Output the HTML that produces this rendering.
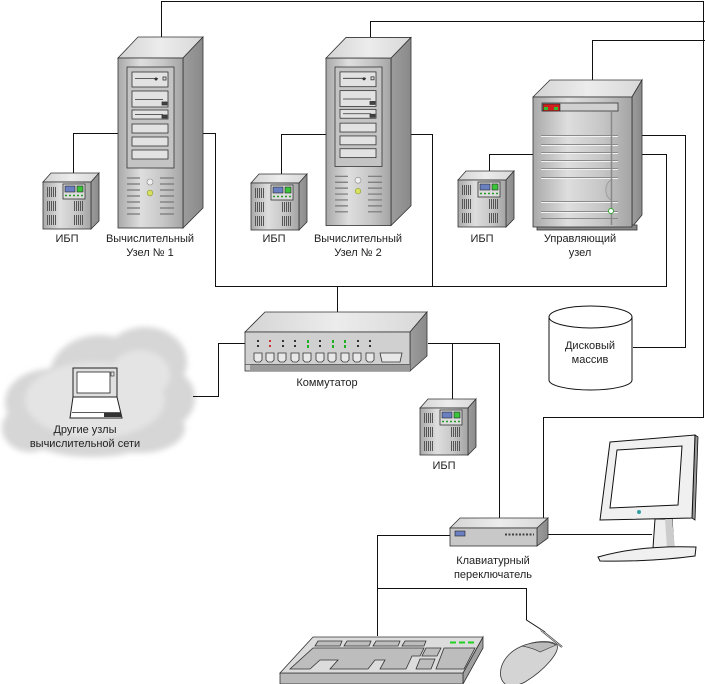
<!DOCTYPE html>
<html><head><meta charset="utf-8"><style>
html,body{margin:0;padding:0;background:#fff;}
svg{display:block;}
text{font-family:"Liberation Sans",Arial,sans-serif;font-size:11px;fill:#222;}
</style></head><body>
<svg width="705" height="684" viewBox="0 0 705 684" xmlns="http://www.w3.org/2000/svg">
<defs>
<linearGradient id="gf" x1="0" y1="0" x2="1" y2="0">
<stop offset="0" stop-color="#a9a9a9"/><stop offset="0.35" stop-color="#dedede"/><stop offset="0.7" stop-color="#c6c6c6"/><stop offset="1" stop-color="#a4a4a4"/></linearGradient>
<linearGradient id="gt" x1="0" y1="0" x2="1" y2="0">
<stop offset="0" stop-color="#d4d4d4"/><stop offset="0.5" stop-color="#ececec"/><stop offset="1" stop-color="#d8d8d8"/></linearGradient>
<linearGradient id="gs" x1="0" y1="0" x2="1" y2="0">
<stop offset="0" stop-color="#9c9c9c"/><stop offset="1" stop-color="#8a8a8a"/></linearGradient>
<filter id="blur" x="-20%" y="-20%" width="140%" height="140%"><feGaussianBlur stdDeviation="3"/></filter>
<g id="ups">
<polygon points="43,182 51,173 99,173 91,182" fill="url(#gt)" stroke="#333" stroke-width="0.8"/>
<polygon points="91,182 99,173 99,221 91,229" fill="url(#gs)" stroke="#333" stroke-width="0.8"/>
<rect x="43" y="182" width="48" height="47" fill="url(#gf)" stroke="#333" stroke-width="0.8"/>
<rect x="63" y="184" width="22" height="15" fill="#ddd" stroke="#333" stroke-width="0.8"/>
<rect x="65" y="186" width="10" height="6" fill="#6a7fc0" stroke="#222" stroke-width="0.6"/>
<rect x="77" y="186" width="6" height="6" fill="#3ac43a" stroke="#222" stroke-width="0.6"/>
<line x1="65" y1="195.5" x2="83" y2="195.5" stroke="#2a9a2a" stroke-width="1.5" stroke-dasharray="2,2"/>
<g stroke="#555" stroke-width="1">
<path d="M47.5,187V197M49.5,187V197M51.5,187V197M53.5,187V197M55.5,187V197"/>
<path d="M47.5,201V211M49.5,201V211M51.5,201V211M53.5,201V211M55.5,201V211"/>
<path d="M47.5,215V225M49.5,215V225M51.5,215V225M53.5,215V225M55.5,215V225"/>
<path d="M74.5,201V211M76.5,201V211M78.5,201V211M80.5,201V211M82.5,201V211"/>
<path d="M74.5,215V225M76.5,215V225M78.5,215V225M80.5,215V225M82.5,215V225"/>
</g>
</g>
<g id="tower">
<polygon points="118,58 138,37 203,37 183,58" fill="url(#gt)" stroke="#333" stroke-width="0.8"/>
<polygon points="183,58 203,37 203,208 183,228" fill="url(#gs)" stroke="#333" stroke-width="0.8"/>
<rect x="118" y="58" width="65" height="170" fill="url(#gf)" stroke="#333" stroke-width="0.8"/>
<rect x="127" y="67" width="47" height="101" fill="#c4c4c4" stroke="#333" stroke-width="0.8"/>
<g fill="#e2e2e2" stroke="#333" stroke-width="0.8">
<rect x="132" y="72" width="36" height="15"/>
<rect x="132" y="91" width="36" height="16"/>
<rect x="132" y="110" width="36" height="9"/>
<rect x="132" y="124" width="36" height="9"/>
<rect x="132" y="137" width="36" height="9"/>
<rect x="132" y="150" width="36" height="9"/>
</g>
<g stroke="#333" stroke-width="0.8" fill="none">
<path d="M135,78.5H158M135,99.5H163M135,114.5H163"/>
<rect x="163" y="77" width="3" height="3"/>
<rect x="162" y="102" width="5" height="3" fill="#444"/>
<rect x="162" y="115" width="5" height="3" fill="#444"/>
</g>
<circle cx="156" cy="79" r="1.5" fill="#333"/>
<g stroke="#777" stroke-width="1.2">
<path d="M127,178H140M127,184H140M127,190H140M127,196H140M127,202H140M127,208H140M127,214H140"/>
<path d="M160,178H174M160,184H174M160,190H174M160,196H174M160,202H174M160,208H174M160,214H174"/>
</g>
<circle cx="150" cy="182" r="3" fill="#eee" stroke="#888" stroke-width="0.6"/>
<circle cx="150" cy="193" r="2.8" fill="#d8e060" stroke="#8a9a30" stroke-width="0.6"/>
</g>
</defs>

<!-- cloud -->
<g filter="url(#blur)" fill="#d6d6d6">
<ellipse cx="50" cy="402" rx="45" ry="33"/>
<ellipse cx="100" cy="375" rx="50" ry="40"/>
<ellipse cx="145" cy="362" rx="42" ry="35"/>
<ellipse cx="163" cy="398" rx="32" ry="30"/>
<ellipse cx="30" cy="428" rx="28" ry="24"/>
<ellipse cx="92" cy="430" rx="70" ry="27"/>
<ellipse cx="140" cy="428" rx="45" ry="25"/>
</g>
<g filter="url(#blur)" fill="#e4e4e4">
<ellipse cx="95" cy="400" rx="70" ry="38"/>
<ellipse cx="140" cy="375" rx="30" ry="25"/>
</g>

<!-- connectors -->
<g fill="none" stroke="#111" stroke-width="1">
<path d="M161.5,48V1.5H703.5V417.5H543.5V530"/>
<path d="M370.5,48V21.5H705"/>
<path d="M592.5,88V40.5H705"/>
<path d="M73.5,182V133.5H118"/>
<path d="M281.5,183V134.5H326"/>
<path d="M489.5,180V154.5H533"/>
<path d="M193,133.5H215.5V286.5H666.5V154.5H633"/>
<path d="M403,134.5H432.5V286.5"/>
<path d="M636,135.5H685.5V347.5H633"/>
<path d="M337.5,286.5V322"/>
<path d="M245,343.5H218.5V396.5H193"/>
<path d="M428,343.5H499.5V522"/>
<path d="M452.5,343.5V402"/>
<path d="M450,535.5H377.5V636"/>
<path d="M377.5,588.5H526.5V620L545,632"/>
<path d="M548,534.5H652"/>
</g>

<!-- servers -->
<use href="#tower"/>
<use href="#tower" transform="translate(208,1) scale(1,0.985)"/>
<use href="#ups"/>
<use href="#ups" transform="translate(208,1)"/>
<use href="#ups" transform="translate(415,-2)"/>
<use href="#ups" transform="translate(377,226)"/>

<!-- control server -->
<polygon points="533,97 550,80 642,80 632,97" fill="url(#gt)" stroke="#333" stroke-width="0.8"/>
<polygon points="632,97 642,80 642,215 632,227" fill="url(#gs)" stroke="#333" stroke-width="0.8"/>
<rect x="537" y="225" width="100" height="5" fill="#888" stroke="#333" stroke-width="0.8"/>
<rect x="533" y="97" width="99" height="130" fill="url(#gf)" stroke="#333" stroke-width="0.8"/>
<rect x="542" y="103" width="76" height="8" fill="#d0d0d0" stroke="#333" stroke-width="0.8"/>
<rect x="543" y="104" width="17" height="7" fill="#d02020" stroke="#222" stroke-width="0.6"/>
<rect x="544" y="107" width="4" height="3" fill="#30c030"/>
<rect x="554" y="107" width="4" height="3" fill="#30c030"/>
<g stroke="#8a8a8a" stroke-width="1">
<path d="M541,135.5H618M541,144.5H618M541,152.5H618M541,160.5H618M541,168.5H618M541,177.5H618M541,201.5H618M541,211.5H618M541,218.5H618"/>
</g>
<g stroke="#f2f2f2" stroke-width="1">
<path d="M541,136.5H618M541,145.5H618M541,153.5H618M541,161.5H618M541,169.5H618M541,178.5H618M541,202.5H618M541,212.5H618"/>
</g>
<path d="M611,180 A9,11 0 0 0 611,200" fill="#bcbcbc" stroke="#999" stroke-width="0.8"/>
<line x1="611.5" y1="111" x2="611.5" y2="225" stroke="#888" stroke-width="1.5"/>
<circle cx="611" cy="211" r="2.5" fill="#fff" stroke="#3a3" stroke-width="1"/>

<!-- disk array -->
<path d="M549,317 V380 A41.5,10 0 0 0 632,380 V317" fill="#fff" stroke="#111" stroke-width="1"/>
<ellipse cx="590.5" cy="317" rx="41.5" ry="11" fill="#fff" stroke="#111" stroke-width="1"/>

<!-- switch -->
<polygon points="245,332 265,312 427,312 410,332" fill="url(#gt)" stroke="#333" stroke-width="0.8"/>
<polygon points="410,332 427,312 427,356 410,371" fill="url(#gs)" stroke="#333" stroke-width="0.8"/>
<rect x="245" y="332" width="165" height="39" fill="#d0d0d0" stroke="#333" stroke-width="0.8"/>
<rect x="250" y="364" width="160" height="7" fill="#9a9a9a"/>
<line x1="245" y1="364.5" x2="410" y2="364.5" stroke="#555" stroke-width="0.8"/>
<g fill="#333">
<rect x="257" y="340" width="2" height="2"/><rect x="257" y="345" width="2" height="2"/>
<rect x="269" y="340" width="2" height="2" fill="#d03030"/><rect x="269" y="345" width="2" height="2" fill="#d03030"/>
<rect x="282" y="340" width="2" height="2"/><rect x="282" y="345" width="2" height="2"/>
<rect x="294" y="340" width="2" height="2"/><rect x="294" y="345" width="2" height="2"/>
<rect x="307" y="340" width="2" height="3" fill="#20b020"/><rect x="307" y="345" width="2" height="3" fill="#20b020"/>
<rect x="319" y="340" width="2" height="2"/><rect x="319" y="345" width="2" height="2"/>
<rect x="332" y="340" width="2" height="3" fill="#20b020"/><rect x="332" y="345" width="2" height="3" fill="#20b020"/>
<rect x="344" y="340" width="2" height="3" fill="#20b020"/><rect x="344" y="345" width="2" height="3" fill="#20b020"/>
<rect x="357" y="340" width="2" height="2"/><rect x="357" y="345" width="2" height="2"/>
<rect x="369" y="340" width="2" height="2"/><rect x="369" y="345" width="2" height="2"/>
</g>
<g fill="#e8e8e8" stroke="#333" stroke-width="0.8">
<path d="M254,353h8v7l-2,2h-4l-2,-2z"/>
<path d="M266,353h8v7l-2,2h-4l-2,-2z"/>
<path d="M278,353h8v7l-2,2h-4l-2,-2z"/>
<path d="M291,353h8v7l-2,2h-4l-2,-2z"/>
<path d="M303,353h8v7l-2,2h-4l-2,-2z"/>
<path d="M316,353h8v7l-2,2h-4l-2,-2z"/>
<path d="M328,353h8v7l-2,2h-4l-2,-2z"/>
<path d="M341,353h8v7l-2,2h-4l-2,-2z"/>
<path d="M353,353h8v7l-2,2h-4l-2,-2z"/>
<path d="M366,353h8v7l-2,2h-4l-2,-2z"/>
<path d="M380,353h22l-2,9h-18z"/>
</g>

<!-- KVM -->
<polygon points="450,528 460,518 548,518 537,528" fill="url(#gt)" stroke="#333" stroke-width="0.8"/>
<polygon points="537,528 548,518 548,538 537,546" fill="url(#gs)" stroke="#333" stroke-width="0.8"/>
<rect x="450" y="528" width="87" height="18" fill="#c8c8c8" stroke="#333" stroke-width="0.8"/>
<rect x="455" y="531" width="10" height="5" fill="#6a80c0" stroke="#222" stroke-width="0.6"/>
<line x1="505" y1="534.5" x2="534" y2="534.5" stroke="#444" stroke-width="2" stroke-dasharray="2,1.5"/>

<!-- laptop -->
<rect x="73" y="368" width="44" height="29" fill="#e0e0e0" stroke="#222" stroke-width="1"/>
<rect x="77" y="372" width="33" height="21" fill="#fff" stroke="#222" stroke-width="0.8"/>
<rect x="111" y="372" width="3" height="4" fill="none" stroke="#222" stroke-width="0.6"/>
<polygon points="73,397 117,397 122,418 70,418" fill="#fff" stroke="#222" stroke-width="1"/>
<line x1="72" y1="412.5" x2="121" y2="412.5" stroke="#222" stroke-width="0.8"/>
<rect x="104" y="413" width="17" height="4" fill="#333"/>

<!-- monitor -->
<polygon points="655,519 672,519 674,548 653,548" fill="#eee" stroke="#111" stroke-width="1"/>
<polygon points="665,519 672,519 675,548 667,548" fill="#ccc"/>
<path d="M598,557 Q640,545 696,547 L695,556 Q650,562 600,561 Z" fill="#f0f0f0" stroke="#111" stroke-width="1"/>
<polygon points="695,435 698,437 695,520 692,518" fill="#999" stroke="#111" stroke-width="0.8"/>
<polygon points="610,442 695,435 692,518 600,520" fill="#f0f0f0" stroke="#111" stroke-width="1"/>
<polygon points="617,450 682,446 678,505 610,508" fill="#fff" stroke="#111" stroke-width="1"/>
<circle cx="639" cy="512" r="2" fill="#30a0a0"/>

<!-- keyboard -->
<polygon points="463,673 483,637 483,648 463,684" fill="#a0a0a0" stroke="#333" stroke-width="0.8"/>
<rect x="280" y="673" width="183" height="11" fill="#b8b8b8" stroke="#333" stroke-width="0.8"/>
<polygon points="313,637 483,637 463,673 280,673" fill="#dcdcdc" stroke="#333" stroke-width="0.8"/>
<g fill="#bdbdbd" stroke="#333" stroke-width="0.8">
<polygon points="318,641 342,641 340,646 315,646"/>
<polygon points="347,641 371,641 369,646 344,646"/>
<polygon points="376,641 400,641 398,646 373,646"/>
<polygon points="405,641 426,641 424,646 402,646"/>
<polygon points="313,648 424,648 420,656 412,656 406,669 380,669 385,660 375,660 368,669 330,669 338,660 320,660 310,669 290,669"/>
<polygon points="426,648 441,648 437,656 422,656"/>
<polygon points="420,659 435,659 431,669 416,669"/>
<polygon points="444,648 475,648 464,669 436,669"/>
</g>
<g stroke="#20d020" stroke-width="2">
<path d="M450,642.5H456M459,642.5H465M468,642.5H474"/>
</g>

<!-- mouse -->
<path d="M505,684 C495,675 502,655 520,647 C535,640 552,640 557,645 C560,652 545,670 525,682 C518,686 510,686 505,684 Z" fill="#d4d4d4" stroke="#333" stroke-width="0.8"/>
<path d="M522,646 C535,641 550,641 556,645 L540,652 C533,648 527,647 522,646 Z" fill="#bbb" stroke="#333" stroke-width="0.6"/>
<path d="M541,630 L562,647" stroke="#333" stroke-width="2" fill="none"/>
<path d="M541,630 L562,647" stroke="#ddd" stroke-width="0.8" fill="none"/>

<!-- labels -->
<g text-anchor="middle">
<text x="67" y="242">ИБП</text>
<text x="150" y="242">Вычислительный</text>
<text x="150" y="256">Узел № 1</text>
<text x="274" y="242">ИБП</text>
<text x="358" y="242">Вычислительный</text>
<text x="358" y="256">Узел № 2</text>
<text x="482" y="242">ИБП</text>
<text x="580" y="242">Управляющий</text>
<text x="580" y="256">узел</text>
<text x="590" y="349">Дисковый</text>
<text x="590" y="363">массив</text>
<text x="327" y="386">Коммутатор</text>
<text x="85" y="433">Другие узлы</text>
<text x="85" y="447">вычислительной сети</text>
<text x="444" y="469">ИБП</text>
<text x="493" y="564">Клавиатурный</text>
<text x="493" y="578">переключатель</text>
</g>
</svg>
</body></html>
